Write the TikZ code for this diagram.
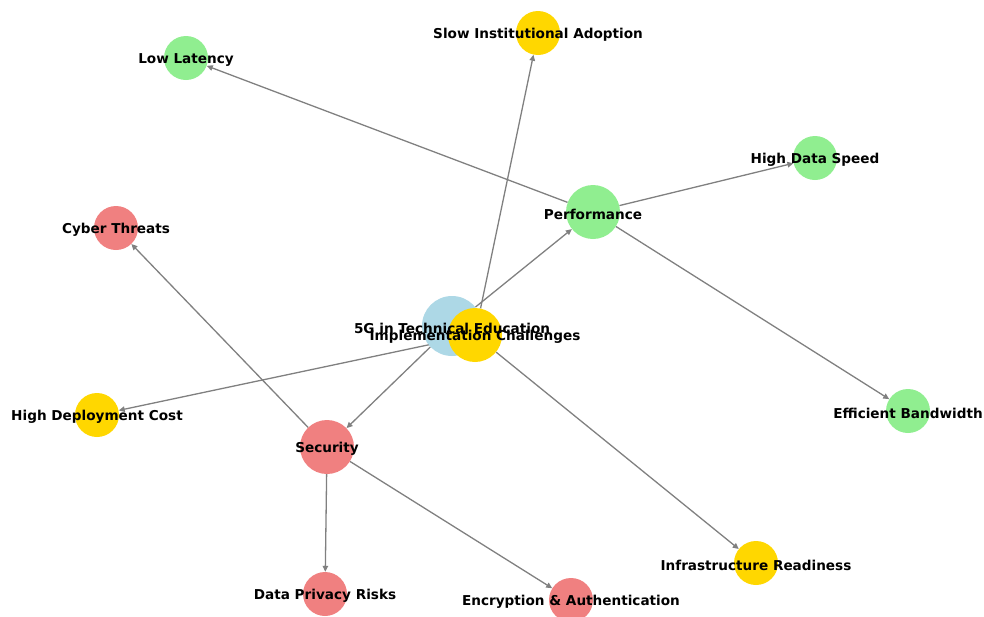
\documentclass[tikz,border=0pt]{standalone}
\usepackage{fontspec}
\setmainfont{DejaVu Sans}
\usetikzlibrary{positioning, calc, arrows.meta, backgrounds}

\definecolor{lightblue}{HTML}{ADD8E6}
\definecolor{goldfill}{HTML}{FFD700}
\definecolor{lightgreen}{HTML}{90EE90}
\definecolor{lightcoral}{HTML}{F08080}
\definecolor{edgegray}{HTML}{808080}

\begin{document}
\begin{tikzpicture}[x=1pt, y=-1pt]
            % Define block styles
            \tikzstyle{leaf} = [circle, inner sep=0pt, minimum size=44pt]
            \tikzstyle{hub} = [circle, inner sep=0pt, minimum size=54pt]
            \tikzstyle{nodetext} = [inner sep=0pt, yshift=-2pt, font=\bfseries\fontsize{13.6}{16}\selectfont]
            \tikzstyle{link} = [draw=edgegray, line width=1.3pt, -{Triangle[length=6pt, width=5.5pt]}]

            \useasboundingbox (0,0) rectangle (984,616);

            % Place nodes
            \node [circle, inner sep=0pt, minimum size=60pt, fill=lightblue] (root) at (452,326) {};
            \node [hub, fill=goldfill] (challenges) at (475,335) {};
            \node [hub, fill=lightgreen] (performance) at (593,212) {};
            \node [hub, fill=lightcoral] (security) at (327,447) {};
            \node [leaf, fill=lightgreen] (latency) at (186,58) {};
            \node [leaf, fill=goldfill] (adoption) at (538,33) {};
            \node [leaf, fill=lightgreen] (speed) at (815,158) {};
            \node [leaf, fill=lightcoral] (threats) at (116,228) {};
            \node [leaf, fill=goldfill] (cost) at (97,415) {};
            \node [leaf, fill=lightgreen] (bandwidth) at (908,411) {};
            \node [leaf, fill=goldfill] (readiness) at (756,563) {};
            \node [leaf, fill=lightcoral] (privacy) at (325,594) {};
            \node [leaf, fill=lightcoral] (encryption) at (571,600) {};

            % Draw connections as arrows
            \begin{scope}[on background layer]
            \draw [link] (root) -- (performance);
            \draw [link] (root) -- (security);
            \draw [link] (challenges) -- (adoption);
            \draw [link] (challenges) -- (cost);
            \draw [link] (challenges) -- (readiness);
            \draw [link] (performance) -- (latency);
            \draw [link] (performance) -- (speed);
            \draw [link] (performance) -- (bandwidth);
            \draw [link] (security) -- (threats);
            \draw [link] (security) -- (privacy);
            \draw [link] (security) -- (encryption);
            \end{scope}

            % Add text on the nodes
            \node [nodetext] (root_text) at (root) {5G in Technical Education};
            \node [nodetext] (challenges_text) at (challenges) {Implementation Challenges};
            \node [nodetext] (performance_text) at (performance) {Performance};
            \node [nodetext] (security_text) at (security) {Security};
            \node [nodetext] (latency_text) at (latency) {Low Latency};
            \node [nodetext] (adoption_text) at (adoption) {Slow Institutional Adoption};
            \node [nodetext] (speed_text) at (speed) {High Data Speed};
            \node [nodetext] (threats_text) at (threats) {Cyber Threats};
            \node [nodetext] (cost_text) at (cost) {High Deployment Cost};
            \node [nodetext] (bandwidth_text) at (bandwidth) {Efficient Bandwidth};
            \node [nodetext] (readiness_text) at (readiness) {Infrastructure Readiness};
            \node [nodetext] (privacy_text) at (privacy) {Data Privacy Risks};
            \node [nodetext] (encryption_text) at (encryption) {Encryption \& Authentication};
        \end{tikzpicture}
\end{document}
